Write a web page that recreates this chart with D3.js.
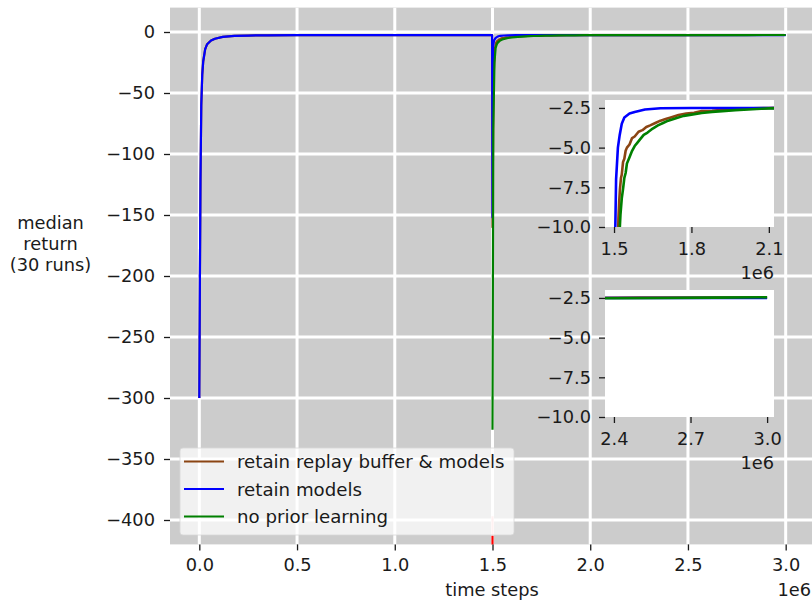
<!DOCTYPE html>
<html>
<head>
<meta charset="utf-8">
<script src="https://cdn.jsdelivr.net/npm/d3@7"></script>
<style>
  body { margin: 0; background: #fff; }
  text { font-family: "DejaVu Sans", sans-serif; fill: #1a1a1a; }
</style>
</head>
<body>
<div id="chart"></div>
<script>
// ---- data (time steps, median return) ----
// first training phase, shared by the two "retain" runs
const pretrainX = [0, 0.003, 0.006, 0.01, 0.015, 0.02, 0.03, 0.04, 0.06, 0.08, 0.12, 0.18, 0.25, 0.35, 0.5, 0.8, 1.2, 1.498].map(v => v * 1e6);
const pretrainY = [-300, -200, -120, -60, -35, -24, -14, -10, -7, -5.5, -4, -3.2, -2.9, -2.7, -2.6, -2.5, -2.5, -2.5];

// second phase (task switch at 1.5e6)
const blueX = [1.5, 1.503, 1.508, 1.515, 1.522, 1.53, 1.54, 1.56, 1.58, 1.62, 1.68, 1.8, 2.2, 2.6, 3.0].map(v => v * 1e6);
const blueY = [-152, -12, -7, -5, -4.2, -3.5, -3.1, -2.85, -2.75, -2.6, -2.52, -2.5, -2.5, -2.5, -2.5];

const brownX = [1.5, 1.505, 1.512, 1.517, 1.52, 1.523, 1.527, 1.53, 1.535, 1.54, 1.545, 1.55, 1.56, 1.57, 1.58, 1.595, 1.61, 1.625, 1.64, 1.66, 1.68, 1.7, 1.72, 1.75, 1.78, 1.81, 1.84, 1.88, 1.93, 1.98, 2.04, 2.1, 2.5, 3.0].map(v => v * 1e6);
const brownY = [-160, -40, -14, -9.5, -8.4, -7.6, -6.9, -6.7, -5.9, -5.7, -5.2, -5.0, -4.8, -4.4, -4.3, -4.0, -3.9, -3.7, -3.6, -3.45, -3.3, -3.2, -3.1, -2.95, -2.85, -2.8, -2.7, -2.68, -2.6, -2.58, -2.53, -2.5, -2.48, -2.47];

const greenX = [1.5, 1.504, 1.51, 1.516, 1.521, 1.525, 1.53, 1.535, 1.54, 1.545, 1.55, 1.56, 1.57, 1.58, 1.59, 1.6, 1.615, 1.63, 1.65, 1.67, 1.69, 1.71, 1.74, 1.77, 1.8, 1.84, 1.88, 1.92, 1.97, 2.02, 2.07, 2.1, 2.2, 2.4, 2.6, 2.8, 3.0].map(v => v * 1e6);
const greenY = [-326, -80, -25, -13, -10.5, -9.2, -8.2, -7.6, -6.9, -6.6, -6.0, -5.6, -5.2, -4.9, -4.7, -4.5, -4.2, -4.05, -3.8, -3.6, -3.45, -3.3, -3.15, -3.0, -2.92, -2.82, -2.75, -2.7, -2.64, -2.6, -2.55, -2.53, -2.52, -2.52, -2.5, -2.48, -2.46];

// unlabelled red run that drops off the bottom at the switch
const redPaleY = [-397, -413];
const redDarkY = [-413, -430];
const switchStep = 1.5e6;

const seriesNames = ["retain replay buffer & models", "retain models", "no prior learning"];
const seriesColors = ["#8b4513", "#0000ff", "#008000"];

const mainXTicks = [0, 0.5e6, 1e6, 1.5e6, 2e6, 2.5e6, 3e6];
const mainYTicks = [0, -50, -100, -150, -200, -250, -300, -350, -400];
const insetYTicks = [-2.5, -5.0, -7.5, -10.0];
const inset1XTicks = [1.5e6, 1.8e6, 2.1e6];
const inset2XTicks = [2.4e6, 2.7e6, 3.0e6];

// ---- build point lists ----
const zip = (xs, ys) => xs.map((x, i) => ({x: x, y: ys[i]}));
const brownPost = zip(brownX, brownY);
const bluePost = zip(blueX, blueY);
const greenPts = zip(greenX, greenY);
const allSeries = [zip(pretrainX, pretrainY).concat(brownPost), zip(pretrainX, pretrainY).concat(bluePost), greenPts];
const insetSeries = [brownPost, bluePost, greenPts];   // insets only show runs after the switch

const W = 812, H = 605;
const FS = 17.8;
const svg = d3.select("#chart").append("svg").attr("width", W).attr("height", H);

const fmtMinus = s => s.replace("-", "\u2212");

function styleAxis(a) {
    a.select(".domain").remove();
    a.selectAll(".tick line").attr("stroke", "#1a1a1a").attr("stroke-width", 1.3);
    a.selectAll(".tick text").attr("font-size", FS).attr("font-family", "DejaVu Sans").attr("fill", "#1a1a1a");
}

// ---- main axes ----
const x = d3.scaleLinear().domain([-0.15e6, 3.15e6]).range([170, 815]);
const y = d3.scaleLinear().domain([-420, 20]).range([544.4, 7.6]);
const plotLeft = 170, plotTop = 7.6, plotBottom = 544.4;

svg.append("defs").append("clipPath").attr("id", "mainClip")
    .append("rect").attr("x", plotLeft).attr("y", plotTop).attr("width", W - plotLeft).attr("height", plotBottom - plotTop);

svg.append("rect").attr("x", plotLeft).attr("y", plotTop).attr("width", W - plotLeft).attr("height", plotBottom - plotTop)
    .attr("fill", "#cccccc");

let grid = svg.append("g").attr("clip-path", "url(#mainClip)");
grid.selectAll(".gx").data(mainXTicks).join("line")
    .attr("x1", d => x(d)).attr("x2", d => x(d)).attr("y1", plotTop).attr("y2", plotBottom)
    .attr("stroke", "#fff").attr("stroke-width", 3);
grid.selectAll(".gy").data(mainYTicks).join("line")
    .attr("x1", plotLeft).attr("x2", W).attr("y1", d => y(d)).attr("y2", d => y(d))
    .attr("stroke", "#fff").attr("stroke-width", 3);

let line = d3.line().x(d => x(d.x)).y(d => y(d.y));
let plot = svg.append("g").attr("clip-path", "url(#mainClip)");

// red run at the switch
plot.append("line").attr("x1", x(switchStep)).attr("x2", x(switchStep))
    .attr("y1", y(redPaleY[0])).attr("y2", y(redPaleY[1]))
    .attr("stroke", "#ff0000").attr("stroke-opacity", 0.2).attr("stroke-width", 2.2);
plot.append("line").attr("x1", x(switchStep)).attr("x2", x(switchStep))
    .attr("y1", y(redDarkY[0])).attr("y2", y(redDarkY[1]))
    .attr("stroke", "#ff0000").attr("stroke-width", 2.2);

allSeries.forEach((pts, i) => {
    plot.append("path").datum(pts).attr("d", line)
        .attr("fill", "none").attr("stroke", seriesColors[i]).attr("stroke-width", 2.2)
        .attr("stroke-linejoin", "round");
});

// axes
let xAxis = svg.append("g").attr("transform", `translate(0,${plotBottom})`)
    .call(d3.axisBottom(x).tickValues(mainXTicks).tickSize(6).tickPadding(8)
        .tickFormat(d => (d / 1e6).toFixed(1)));
let yAxis = svg.append("g").attr("transform", `translate(${plotLeft},0)`)
    .call(d3.axisLeft(y).tickValues(mainYTicks).tickSize(6).tickPadding(9)
        .tickFormat(d => fmtMinus(String(d))));
styleAxis(xAxis);
styleAxis(yAxis);

svg.append("text").attr("x", 492).attr("y", 596).attr("text-anchor", "middle")
    .attr("font-size", FS).text("time steps");
svg.append("text").attr("x", 811).attr("y", 596).attr("text-anchor", "end")
    .attr("font-size", FS).text("1e6");

let ylab = svg.append("text").attr("text-anchor", "middle").attr("font-size", FS);
["median", "return", "(30 runs)"].forEach((t, i) => {
    ylab.append("tspan").attr("x", 50.5).attr("y", 229 + i * 21).text(t);
});

// ---- insets ----
function drawInset(id, xDomain, yTop, xTicks) {
    let ix = d3.scaleLinear().domain(xDomain).range([605, 774]);
    let iy = d3.scaleLinear().domain([-10, -2.0]).range([yTop + 127, yTop]);
    svg.select("defs").append("clipPath").attr("id", id)
        .append("rect").attr("x", 605).attr("y", yTop).attr("width", 169).attr("height", 127);
    svg.append("rect").attr("x", 605).attr("y", yTop).attr("width", 169).attr("height", 127).attr("fill", "#fff");
    let il = d3.line().x(d => ix(d.x)).y(d => iy(d.y));
    let g = svg.append("g").attr("clip-path", `url(#${id})`);
    insetSeries.forEach((pts, i) => {
        g.append("path").datum(pts).attr("d", il)
            .attr("fill", "none").attr("stroke", seriesColors[i]).attr("stroke-width", 2.6)
            .attr("stroke-linejoin", "round");
    });
    let ax = svg.append("g").attr("transform", `translate(0,${yTop + 127})`)
        .call(d3.axisBottom(ix).tickValues(xTicks).tickSize(6).tickPadding(9)
            .tickFormat(d => (d / 1e6).toFixed(1)));
    let ay = svg.append("g").attr("transform", "translate(605,0)")
        .call(d3.axisLeft(iy).tickValues(insetYTicks).tickSize(6).tickPadding(8)
            .tickFormat(d => fmtMinus(d.toFixed(1))));
    styleAxis(ax);
    styleAxis(ay);
    svg.append("text").attr("x", 774).attr("y", yTop + 179).attr("text-anchor", "end")
        .attr("font-size", FS).text("1e6");
}
drawInset("inset1", [1.465e6, 2.12e6], 100, inset1XTicks);
drawInset("inset2", [2.365e6, 3.027e6], 290, inset2XTicks);

// ---- legend ----
let lg = svg.append("g");
lg.append("rect").attr("x", 180).attr("y", 448).attr("width", 334).attr("height", 87)
    .attr("rx", 3).attr("fill", "#ffffff").attr("fill-opacity", 0.72).attr("stroke", "#d8d8d8").attr("stroke-width", 0.8);
seriesNames.forEach((name, i) => {
    let cy = 461.5 + i * 27.5;
    lg.append("line").attr("x1", 184).attr("x2", 224).attr("y1", cy).attr("y2", cy)
        .attr("stroke", seriesColors[i]).attr("stroke-width", 2.2);
    lg.append("text").attr("x", 237).attr("y", cy + 6.5).attr("font-size", 18.2).text(name);
});
</script>
</body>
</html>
